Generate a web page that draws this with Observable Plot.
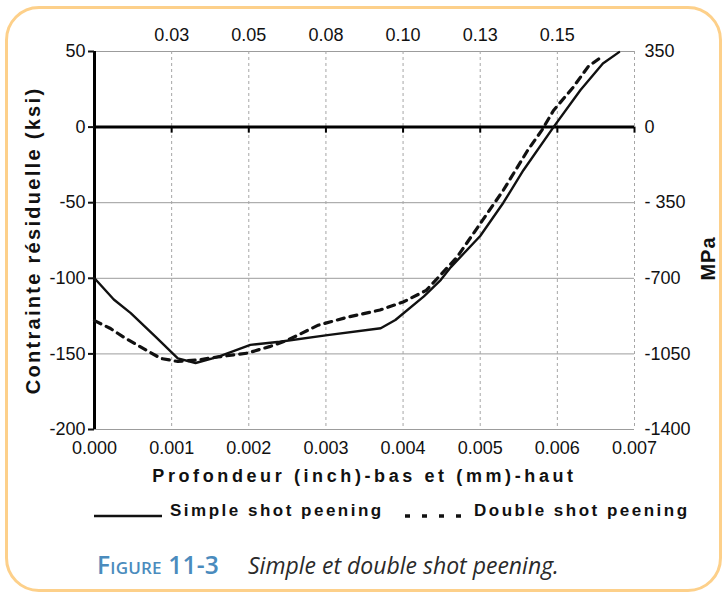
<!DOCTYPE html>
<html><head><meta charset="utf-8">
<script src="https://cdn.jsdelivr.net/npm/d3@7"></script>
<script src="https://cdn.jsdelivr.net/npm/@observablehq/plot@0.6"></script>
<style>
html,body{margin:0;padding:0;background:#fff;}
body{width:726px;height:596px;position:relative;overflow:hidden;font-family:"Liberation Sans",Arial,sans-serif;}
#frame{position:absolute;left:5px;top:6px;width:711px;height:580px;border:3px solid #fdd08a;border-radius:34px;}
#chart{position:absolute;left:0;top:0;}
.leg{position:absolute;top:500px;font-weight:bold;font-size:17px;letter-spacing:2.5px;color:#111;line-height:22px;white-space:nowrap;}
.sw{position:absolute;top:508px;}
#cap{position:absolute;left:97px;top:549px;white-space:nowrap;font-family:"Open Sans",sans-serif;line-height:32px;}
#cap .fig{color:#4a8bbd;font-weight:600;font-size:24.5px;font-variant:small-caps;letter-spacing:0.2px;}
#cap .txt{color:#2a2a2a;font-style:italic;font-size:23px;position:absolute;left:151px;top:0;}
</style></head>
<body>
<div id="frame"></div>
<div id="chart"></div>
<svg class="sw" style="left:94px" width="70" height="14"><line x1="0" y1="8" x2="68" y2="8" stroke="#111" stroke-width="2.5"/></svg>
<div class="leg" style="left:170px">Simple shot peening</div>
<svg class="sw" style="left:405px" width="60" height="14"><line x1="0" y1="8" x2="58" y2="8" stroke="#111" stroke-width="3.5" stroke-dasharray="5,12"/></svg>
<div class="leg" style="left:474px">Double shot peening</div>
<div id="cap"><span class="fig">Figure 11-3</span><span class="txt">Simple et double shot peening.</span></div>
<script>
// Depth (inch) and residual stress (ksi)
const simpleX = [0, 0.00025, 0.00047, 0.0008, 0.00108, 0.00131, 0.0016, 0.00202, 0.0024, 0.00302, 0.00371, 0.0039, 0.00427, 0.00449, 0.00462, 0.005, 0.0053, 0.00556, 0.00595, 0.0063, 0.00659, 0.0068];
const simpleY = [-100, -114, -123, -139, -153, -156, -152, -144, -142, -137.6, -133, -127.6, -112, -101, -92.6, -72, -50, -28.5, 0, 24.5, 42, 49.6];
const doubleX = [0, 0.0002, 0.00038, 0.00086, 0.00108, 0.00134, 0.0016, 0.00198, 0.00228, 0.0025, 0.0029, 0.00328, 0.0037, 0.004, 0.0043, 0.0047, 0.0053, 0.00562, 0.0058, 0.00595, 0.0062, 0.0064, 0.00656];
const doubleY = [-128, -133, -139, -153, -155, -154, -152, -149.5, -145, -141, -131, -125.7, -121, -115.7, -108, -86, -41.7, -15, -2, 11, 26, 40, 46];

const xTicks = [0, 0.001, 0.002, 0.003, 0.004, 0.005, 0.006, 0.007];
const xTickLabels = ["0.000", "0.001", "0.002", "0.003", "0.004", "0.005", "0.006", "0.007"];
const mmTicks = [0.001, 0.002, 0.003, 0.004, 0.005, 0.006];
const mmLabels = ["0.03", "0.05", "0.08", "0.10", "0.13", "0.15"];
const yTicks = [50, 0, -50, -100, -150, -200];
const yTickLabels = ["50", "0", "-50", "-100", "-150", "-200"];
const mpaLabels = ["350", "0", "- 350", "-700", "-1050", "-1400"];
const gridY = [50, -50, -100, -150, -200];

const yTitle = "Contrainte résiduelle (ksi)";
const y2Title = "MPa";
const xTitle = "Profondeur (inch)-bas et (mm)-haut";

const simple = simpleX.map((x, i) => ({x, y: simpleY[i]}));
const dbl = doubleX.map((x, i) => ({x, y: doubleY[i]}));

const chart = Plot.plot({
  width: 726, height: 540,
  marginLeft: 94, marginRight: 92, marginTop: 51, marginBottom: 111,
  x: {domain: [0, 0.007]},
  y: {domain: [-200, 50]},
  style: {fontFamily: "'Liberation Sans', Arial, sans-serif", fontSize: "18px", color: "#111", background: "transparent", overflow: "visible"},
  marks: [
    Plot.ruleY(gridY, {stroke: "#9c9c9c", strokeWidth: 1}),
    Plot.ruleX(xTicks.slice(1), {stroke: "#a6a6a6", strokeWidth: 1, strokeDasharray: "3,3"}),
    Plot.ruleY([0], {stroke: "#000", strokeWidth: 3}),
    Plot.ruleX(xTicks.slice(1), {y1: 0, y2: -4, stroke: "#000", strokeWidth: 2}),
    Plot.ruleX([0], {stroke: "#000", strokeWidth: 3}),
    Plot.axisY(yTicks, {anchor: "left", tickSize: 6, tickPadding: 3, strokeWidth: 2, fontSize: 18, tickFormat: d => yTickLabels[yTicks.indexOf(d)], label: null}),
    Plot.axisY(yTicks, {anchor: "right", tickSize: 0, tickPadding: 10, fontSize: 18, tickFormat: d => mpaLabels[yTicks.indexOf(d)], label: null}),
    Plot.axisX(xTicks, {anchor: "bottom", tickSize: 0, tickPadding: 12, fontSize: 18, tickFormat: d => xTickLabels[xTicks.indexOf(d)], label: null}),
    Plot.axisX(mmTicks, {anchor: "top", tickSize: 0, tickPadding: 11, fontSize: 18, tickFormat: d => mmLabels[mmTicks.indexOf(d)], label: null}),
    Plot.line(simple, {x: "x", y: "y", stroke: "#111", strokeWidth: 2.4, curve: "linear"}),
    Plot.line(dbl, {x: "x", y: "y", stroke: "#111", strokeWidth: 3.2, strokeDasharray: "7,6", curve: "linear"}),
    Plot.text([yTitle], {frameAnchor: "left", dx: -61, dy: 0, rotate: -90, textAnchor: "middle", lineAnchor: "middle", fontWeight: "bold", fontSize: 20}),
    Plot.text([y2Title], {frameAnchor: "right", dx: 74, dy: 18, rotate: -90, textAnchor: "middle", lineAnchor: "middle", fontWeight: "bold", fontSize: 20}),
    Plot.text([xTitle], {frameAnchor: "bottom", dy: 47, textAnchor: "middle", lineAnchor: "middle", fontWeight: "bold", fontSize: 18})
  ]
});
const spacing = (needle, px) => {
  chart.querySelectorAll("text").forEach(t => {
    if (t.textContent.indexOf(needle) >= 0) {
      t.setAttribute("letter-spacing", px);
      t.style.letterSpacing = px + "px";
    }
  });
};
spacing("Contrainte", 2.3);
spacing("Profondeur", 3.6);
spacing("MPa", 1);
document.getElementById("chart").appendChild(chart);
</script>
</body></html>
